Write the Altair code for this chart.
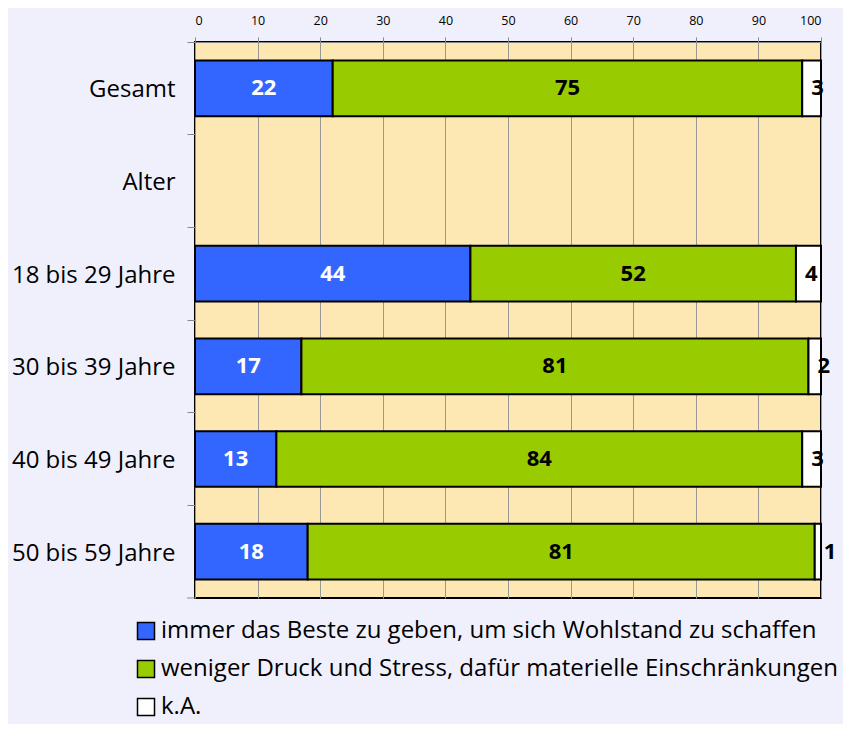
import altair as alt
import pandas as pd

categories = ["Gesamt", "Alter", "18 bis 29 Jahre", "30 bis 39 Jahre",
              "40 bis 49 Jahre", "50 bis 59 Jahre"]
series = ["immer das Beste zu geben, um sich Wohlstand zu schaffen",
          "weniger Druck und Stress, dafür materielle Einschränkungen",
          "k.A."]
rows = ["Gesamt", "18 bis 29 Jahre", "30 bis 39 Jahre", "40 bis 49 Jahre", "50 bis 59 Jahre"]
beste = [22, 44, 17, 13, 18]
weniger = [75, 52, 81, 84, 81]
ka = [3, 4, 2, 3, 1]
colors = ["#3366ff", "#99cc00", "#ffffff"]
x_ticks = list(range(0, 101, 10))

FONT = "Open Sans"

records = []
for i, cat in enumerate(rows):
    start = 0
    for j, vals in enumerate([beste, weniger, ka]):
        v = vals[i]
        records.append(dict(cat=cat, series=series[j], order=j, value=v,
                            start=start, end=start + v, mid=start + v / 2,
                            label=str(v)))
        start += v
df = pd.DataFrame(records)

x_scale = alt.Scale(domain=[0, 100], nice=False, zero=True)
y_scale = alt.Scale(domain=categories, paddingInner=0, paddingOuter=0)

bars = alt.Chart(df).mark_bar(
    height={"band": 0.6}, stroke="black", strokeWidth=2
).encode(
    x=alt.X("start:Q", scale=x_scale,
            axis=alt.Axis(orient="top", values=x_ticks, title=None, grid=True,
                          gridColor="#999999", gridWidth=1, tickSize=5,
                          tickColor="#888888", domainColor="#888888",
                          labelFontSize=12.5, labelFont=FONT, labelColor="black",
                          labelPadding=10)),
    x2="end:Q",
    y=alt.Y("cat:N", scale=y_scale, sort=categories,
            axis=alt.Axis(title=None, bandPosition=0, labelOffset=2,
                          tickSize=8, tickColor="#888888", domain=False,
                          labelPadding=12, labelFontSize=24, labelFont=FONT,
                          labelColor="black")),
    color=alt.Color("series:N", scale=alt.Scale(domain=series, range=colors),
                    legend=alt.Legend(title=None, orient="none", legendX=-61,
                                      legendY=577, direction="vertical",
                                      symbolType="square", symbolSize=289,
                                      symbolStrokeColor="black",
                                      symbolStrokeWidth=1.5, labelFontSize=24,
                                      labelFont=FONT, labelColor="black",
                                      rowPadding=14, labelOffset=3, labelLimit=0)),
    order=alt.Order("order:Q"),
)

# closing tick at the lower end of the category axis
end_tick = alt.Chart(pd.DataFrame({"k": [0]})).mark_rule(
    color="#888888", strokeWidth=1
).encode(x=alt.value(-8), x2=alt.value(0), y=alt.value(556))

inner_text = alt.Chart(df).transform_filter("datum.order < 2").mark_text(
    fontWeight="bold", fontSize=22, font=FONT, baseline="middle"
).encode(
    x=alt.X("mid:Q", scale=x_scale),
    y=alt.Y("cat:N", scale=y_scale, sort=categories),
    text="label:N",
    color=alt.condition("datum.order == 0", alt.value("white"), alt.value("black")),
)

ka_text = alt.Chart(df).transform_filter("datum.order == 2").mark_text(
    fontWeight="bold", fontSize=22, font=FONT, baseline="middle", align="left",
    dx=9, color="black"
).encode(
    x=alt.X("start:Q", scale=x_scale),
    y=alt.Y("cat:N", scale=y_scale, sort=categories),
    text="label:N",
)

chart = alt.layer(bars, end_tick, inner_text, ka_text).properties(
    width=626, height=556,
    autosize=alt.AutoSizeParams(type="none"),
    padding={"left": 187, "top": 34, "right": 22, "bottom": 126},
    background="#f0f0fd",
).configure_view(
    fill="#fde8b4", stroke="black", strokeWidth=2
)

chart.save("out.html", embed_options={"renderer": "svg", "actions": False})
